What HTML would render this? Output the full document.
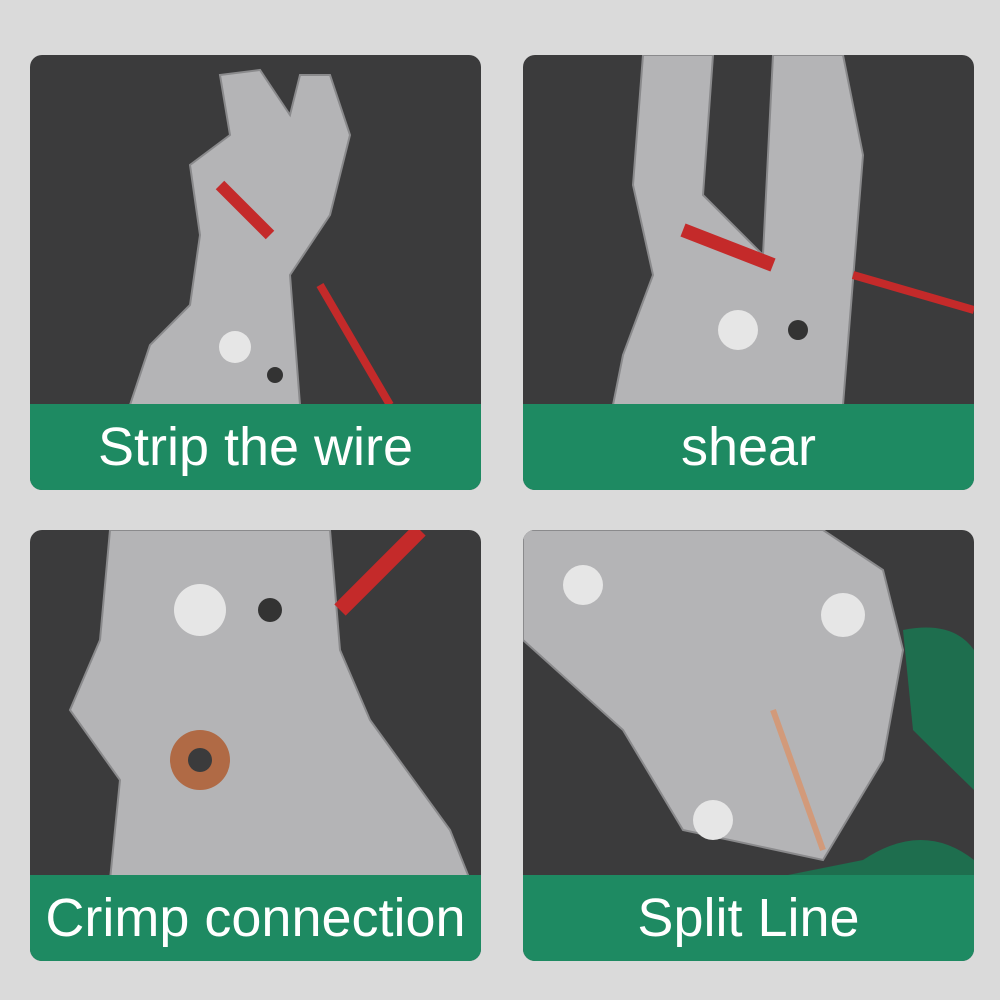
<!DOCTYPE html>
<html><head><meta charset="utf-8"><style>
body{margin:0;width:1000px;height:1000px;background:#dadada;position:relative;overflow:hidden;font-family:"Liberation Sans",sans-serif}
.p{position:absolute;width:451px;height:435px;background:#3b3b3c;border-radius:12px;overflow:hidden}
.g{position:absolute;left:0;right:0;bottom:0;height:86px;background:#1e8a62;color:#fff;font-size:54px;text-align:center;line-height:86px}
svg{position:absolute;left:0;top:0}
</style></head><body>
<div class="p" style="left:30px;top:55px">
<svg width="451" height="350"><g fill="#b4b4b6" stroke="#8a8a8c" stroke-width="2">
<path d="M190 20 L230 15 L260 60 L270 20 L300 20 L320 80 L300 160 L260 220 L270 350 L100 350 L120 290 L160 250 L170 180 L160 110 L200 80 Z"/></g>
<line x1="290" y1="230" x2="360" y2="350" stroke="#c42a2a" stroke-width="8"/>
<line x1="190" y1="130" x2="240" y2="180" stroke="#c42a2a" stroke-width="12"/>
<circle cx="205" cy="292" r="16" fill="#e6e6e6"/><circle cx="245" cy="320" r="8" fill="#333"/></svg>
<div class="g">Strip the wire</div></div>
<div class="p" style="left:523px;top:55px">
<svg width="451" height="350"><g fill="#b4b4b6" stroke="#8a8a8c" stroke-width="2">
<path d="M120 0 L190 0 L180 140 L240 200 L250 0 L320 0 L340 100 L320 350 L90 350 L100 300 L130 220 L110 130 Z"/></g>
<line x1="160" y1="175" x2="250" y2="210" stroke="#c42a2a" stroke-width="14"/>
<line x1="330" y1="220" x2="451" y2="255" stroke="#c42a2a" stroke-width="8"/>
<circle cx="215" cy="275" r="20" fill="#e6e6e6"/><circle cx="275" cy="275" r="10" fill="#333"/></svg>
<div class="g">shear</div></div>
<div class="p" style="left:30px;top:530px;height:431px">
<svg width="451" height="350"><g fill="#b4b4b6" stroke="#8a8a8c" stroke-width="2">
<path d="M80 0 L300 0 L310 120 L340 190 L420 300 L440 350 L80 350 L90 250 L40 180 L70 110 Z"/></g>
<line x1="310" y1="80" x2="390" y2="0" stroke="#c42a2a" stroke-width="16"/>
<circle cx="170" cy="80" r="26" fill="#e6e6e6"/><circle cx="240" cy="80" r="12" fill="#333"/>
<circle cx="170" cy="230" r="30" fill="#b06a45"/><circle cx="170" cy="230" r="12" fill="#3b3b3c"/></svg>
<div class="g">Crimp connection</div></div>
<div class="p" style="left:523px;top:530px;height:431px">
<svg width="451" height="350"><g fill="#b4b4b6" stroke="#8a8a8c" stroke-width="2">
<path d="M0 0 L300 0 L360 40 L380 120 L360 230 L300 330 L160 300 L100 200 L0 110 Z"/></g>
<path d="M340 330 Q400 290 451 330 L451 350 L240 350 Z" fill="#1e6e4e"/>
<path d="M380 100 Q430 90 451 120 L451 260 Q420 230 390 200 Z" fill="#1e6e4e"/>
<circle cx="60" cy="55" r="20" fill="#e6e6e6"/><circle cx="320" cy="85" r="22" fill="#e6e6e6"/>
<circle cx="190" cy="290" r="20" fill="#e6e6e6"/>
<line x1="250" y1="180" x2="300" y2="320" stroke="#d29a7a" stroke-width="6"/></svg>
<div class="g">Split Line</div></div>
</body></html>
